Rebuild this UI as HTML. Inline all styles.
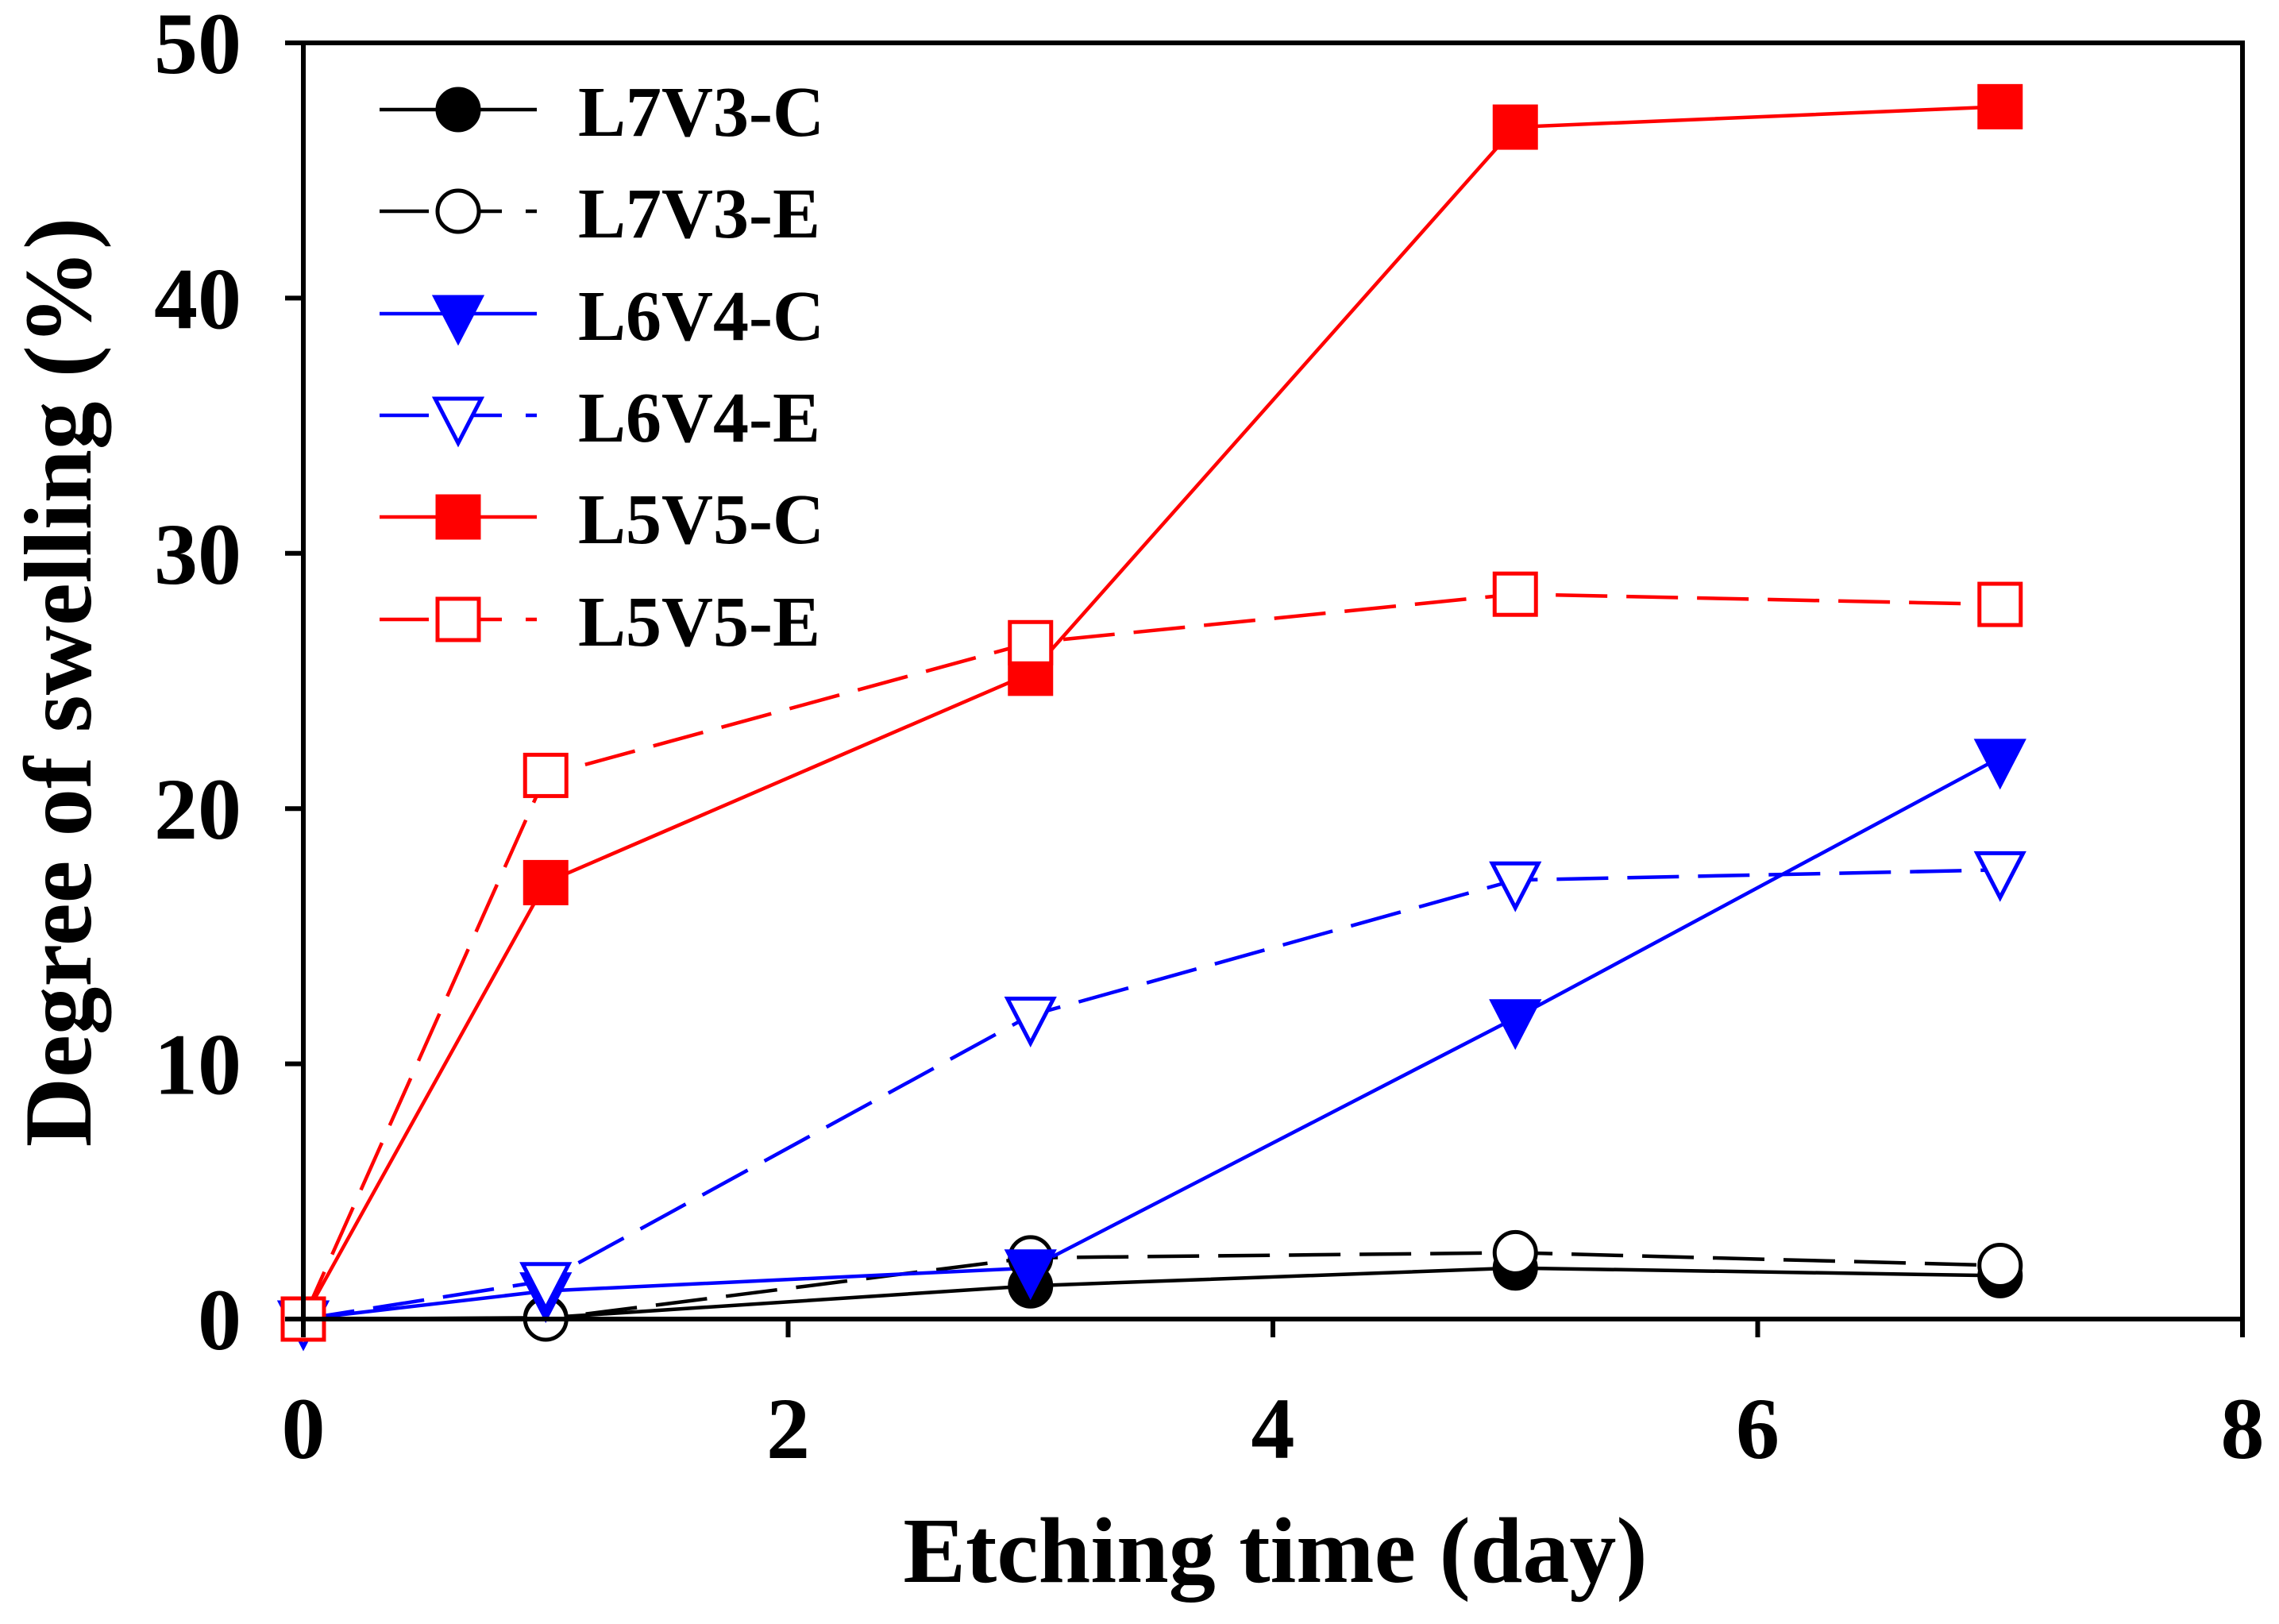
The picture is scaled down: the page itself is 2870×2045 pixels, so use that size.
<!DOCTYPE html>
<html><head><meta charset="utf-8"><style>
html,body{margin:0;padding:0;background:#fff}
svg text{font-family:"Liberation Serif",serif;font-weight:bold}
</style></head><body>
<svg id="chart" width="2870" height="2040" viewBox="0 0 2870 2040" xmlns="http://www.w3.org/2000/svg">
<g id="plot"></g>
<g id="axes"></g>
<g id="legend"></g>
<text x="74" y="859" font-size="121" text-anchor="middle" transform="rotate(-90 74 859)" dominant-baseline="central">Degree of swelling (%)</text>
<text x="1606" y="1992" font-size="118" text-anchor="middle">Etching time (day)</text>
</svg>
<script>
const days = [0, 1, 3, 5, 7];
const seriesNames = ["L7V3-C", "L7V3-E", "L6V4-C", "L6V4-E", "L5V5-C", "L5V5-E"];
const l7v3C = [0, 0.05, 1.3, 2.0, 1.7];
const l7v3E = [0, 0, 2.4, 2.6, 2.1];
const l6v4C = [0, 1.1, 2.0, 11.8, 22.0];
const l6v4E = [0, 1.5, 11.9, 17.2, 17.6];
const l5v5C = [0, 17.1, 25.3, 46.7, 47.5];
const l5v5E = [0, 21.3, 26.5, 28.4, 28.0];
const xTicks = [0, 2, 4, 6, 8];
const yTicks = [0, 10, 20, 30, 40, 50];

const NS = "http://www.w3.org/2000/svg";
const X0 = 382, X1 = 2824, Y0 = 1661, Y1 = 54;
const xMin = 0, xMax = 8, yMin = 0, yMax = 50;
function sx(v){ return X0 + (v - xMin) / (xMax - xMin) * (X1 - X0); }
function sy(v){ return Y0 - (v - yMin) / (yMax - yMin) * (Y0 - Y1); }
function mk(tag, attrs, parent){
  const e = document.createElementNS(NS, tag);
  for (const k in attrs) e.setAttribute(k, attrs[k]);
  parent.appendChild(e);
  return e;
}
const styles = [
  {color:"#000", dash:null, shape:"circle", fill:true},
  {color:"#000", dash:"65 24", shape:"circle", fill:false},
  {color:"#0000ff", dash:null, shape:"tri", fill:true},
  {color:"#0000ff", dash:"65 24", shape:"tri", fill:false},
  {color:"#ff0000", dash:null, shape:"square", fill:true},
  {color:"#ff0000", dash:"65 24", shape:"square", fill:false}
];
const allData = [l7v3C, l7v3E, l6v4C, l6v4E, l5v5C, l5v5E];
function marker(shape, cx, cy, st, parent){
  const fill = st.fill ? st.color : "#fff";
  let e;
  if (shape === "circle") e = mk("circle", {cx:cx, cy:cy, r:26, fill:fill, stroke:st.color, "stroke-width":5}, parent);
  else if (shape === "square") e = mk("rect", {x:cx-26, y:cy-26, width:52, height:52, fill:fill, stroke:st.color, "stroke-width":5}, parent);
  else e = mk("polygon", {points:(cx-29)+","+(cy-21)+" "+(cx+29)+","+(cy-21)+" "+cx+","+(cy+35), fill:fill, stroke:st.color, "stroke-width":5, "stroke-linejoin":"miter"}, parent);
  return e;
}
const plot = document.getElementById("plot");
const axes = document.getElementById("axes");
const legend = document.getElementById("legend");

const frame = mk("rect", {x:X0, y:Y1, width:X1-X0, height:Y0-Y1, fill:"none", stroke:"#000", "stroke-width":6}, axes);


yTicks.forEach(v => {
  const t = mk("line", {x1:X0-23, x2:X0, y1:sy(v), y2:sy(v), stroke:"#000", "stroke-width":6}, axes);
  
  
  const l = mk("text", {x:X0-78, y:sy(v)+38, "font-size":110, "text-anchor":"end"}, axes);
  l.textContent = v;
  
  
});
xTicks.forEach(v => {
  const t = mk("line", {x1:sx(v), x2:sx(v), y1:Y0, y2:Y0+23, stroke:"#000", "stroke-width":6}, axes);
  
  
  const l = mk("text", {x:sx(v), y:Y0+175, "font-size":110, "text-anchor":"middle"}, axes);
  l.textContent = v;
  
  
});

allData.forEach((vals, i) => {
  const st = styles[i];
  const pts = vals.map((v, j) => sx(days[j]) + "," + sy(v)).join(" ");
  const attrs = {points:pts, fill:"none", stroke:st.color, "stroke-width":4.5};
  if (st.dash) attrs["stroke-dasharray"] = st.dash;
  const pl = mk("polyline", attrs, plot);
  
  
});
allData.forEach((vals, i) => {
  const st = styles[i];
  vals.forEach((v, j) => {
    const m = marker(st.shape, sx(days[j]), sy(v), st, plot);
    
    
  });
});

const legY = [138, 266, 395, 523, 651, 780];
seriesNames.forEach((name, i) => {
  const st = styles[i];
  const y = legY[i];
  const g = mk("g", {}, legend);
  
  
  const a = {x1:478, x2:676, y1:y, y2:y, stroke:st.color, "stroke-width":4.5};
  if (st.dash) a["stroke-dasharray"] = "62 30";
  mk("line", a, g);
  marker(st.shape, 577, y, st, g);
  const t = mk("text", {x:728, y:y+33, "font-size":90}, g);
  t.textContent = name;
});
</script>
</body></html>
